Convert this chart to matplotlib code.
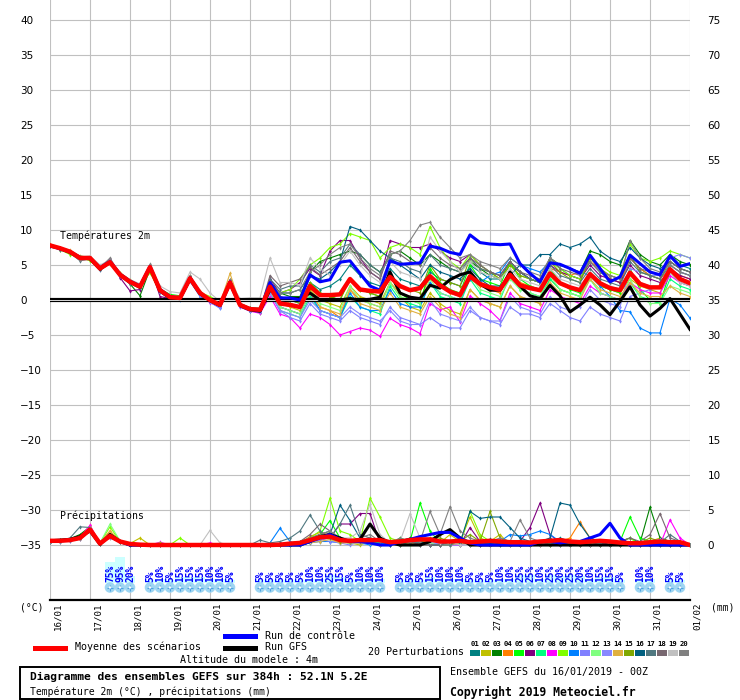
import numpy as np
import matplotlib
matplotlib.use('Agg')
import matplotlib.pyplot as plt
from matplotlib.patches import Rectangle
from matplotlib.lines import Line2D
import matplotlib.transforms as mtransforms

# ---------------- data ----------------
dates = ['16/01', '17/01', '18/01', '19/01', '20/01', '21/01', '22/01', '23/01', '24/01',
         '25/01', '26/01', '27/01', '28/01', '29/01', '30/01', '31/01', '01/02']
steps = np.arange(65)  # 6-hourly steps, 0..384h

mean_temp = [7.8, 7.4, 6.9, 6.0, 6.0, 4.5, 5.4, 3.6, 2.6, 1.9, 4.7, 1.4, 0.4, 0.3, 3.1, 1.0,
             0.0, -0.7, 2.5, -0.7, -1.3, -1.4, 1.9, -0.5, -0.7, -1.0, 2.0, 0.7, 0.7, 0.8, 3.0, 1.5,
             1.3, 1.2, 3.3, 2.0, 1.4, 1.7, 3.4, 2.1, 1.2, 0.7, 3.4, 2.3, 1.8, 1.5, 3.6, 2.1,
             1.7, 1.4, 3.8, 2.4, 1.8, 1.4, 3.7, 2.4, 1.7, 1.4, 3.9, 2.3, 1.8, 1.8, 4.4, 3.0, 2.4]
control_temp = [7.8, 7.3, 6.9, 6.1, 6.0, 4.6, 5.5, 3.7, 2.7, 2.0, 4.8, 1.5, 0.5, 0.3, 3.2, 1.0,
                0.0, -0.8, 2.6, -0.7, -1.3, -1.5,
                2.5, 0.3, 0.3, 0.0, 3.6, 2.6, 2.9, 5.4, 5.6, 3.8, 2.0, 1.4, 5.6, 5.1, 5.2, 5.3,
                7.7, 7.4, 6.8, 6.5, 9.3, 8.2, 8.0, 7.9, 8.0, 5.2, 3.8, 2.6, 5.3, 5.1, 4.5, 3.8,
                6.4, 4.5, 2.6, 3.3, 6.4, 5.2, 4.0, 3.6, 6.3, 4.8, 5.2]
gfs_temp = [7.7, 7.4, 6.8, 6.0, 5.9, 4.4, 5.4, 3.6, 2.6, 1.8, 4.6, 1.3, 0.3, 0.2, 3.0, 0.9,
            -0.1, -0.8, 2.4, -0.8, -1.4, -1.6,
            1.5, 0.2, 0.2, 0.2, 1.0, 0.0, 0.0, 0.0, 0.2, 0.0, 0.1, 0.4, 4.0, 1.0, 0.4, 0.2,
            2.1, 1.7, 2.9, 3.6, 4.0, 2.3, 1.4, 1.4, 4.0, 2.0, 0.6, 0.2, 2.1, 0.6, -1.7, -0.7,
            0.4, -0.7, -2.1, -0.2, 1.9, -0.7, -2.3, -1.2, 0.2, -2.0, -4.2]

pert_temp = [
    # 01
    [7.7, 7.3, 6.8, 6.1, 5.9, 4.6, 5.5, 3.5, 2.4, 1.8, 4.9, 1.3, 0.3, 0.2, 3.2, 0.8, -0.2, -0.9, 2.6, -0.8, -1.4, -1.5,
     2.0, 0.5, 0.0, -0.5, 2.5, 1.5, 2.0, 3.0, 5.0, 3.5, 2.5, 2.0, 4.5, 3.0, 2.5, 2.0, 4.0, 3.0, 2.5, 2.0,
     5.0, 4.0, 3.0, 3.0, 5.5, 4.0, 3.0, 2.5, 6.0, 4.5, 3.5, 3.0, 5.5, 4.0, 3.0, 2.5, 6.0, 4.5, 3.5, 3.5, 6.5, 5.0, 4.5],
    # 02
    [7.9, 7.4, 7.0, 6.3, 6.1, 4.9, 5.6, 3.9, 2.9, 2.2, 4.5, 1.5, 0.5, 0.4, 3.0, 1.2, 0.1, -0.5, 2.3, -0.6, -1.2, -1.3,
     1.5, -0.5, -1.0, -1.5, 1.5, 0.0, -0.5, -1.0, 2.0, 0.5, 0.0, -0.5, 2.5, 0.5, -1.0, -1.5, 1.0, -0.5, -1.5, -2.0,
     1.5, 0.0, -0.5, -1.0, 2.0, 0.5, 0.0, -0.5, 3.0, 1.5, 1.0, 0.5, 3.5, 2.0, 1.5, 1.0, 3.0, 2.0, 1.5, 1.0, 4.5, 3.0, 2.5],
    # 03
    [7.8, 7.2, 6.8, 5.8, 5.8, 4.4, 5.3, 3.5, 2.3, 0.6, 4.4, 1.5, 0.6, 0.4, 3.2, 1.1, 0.2, -0.6, 2.4, -0.9, -1.5, -1.8,
     2.5, 1.0, 0.5, 0.5, 4.0, 5.5, 6.0, 6.5, 7.0, 6.5, 5.0, 4.0, 6.5, 7.0, 6.0, 5.0, 6.5, 5.5, 4.5, 4.0,
     5.5, 4.5, 3.5, 3.0, 5.0, 4.0, 3.0, 2.5, 6.0, 5.0, 4.5, 4.0, 7.0, 6.5, 5.5, 5.0, 8.5, 6.5, 5.5, 5.0, 6.5, 5.5, 5.0],
    # 04
    [7.9, 7.5, 7.0, 6.1, 6.0, 4.6, 5.5, 3.7, 2.7, 2.0, 4.8, 1.2, 0.2, 0.1, 3.5, 0.9, -0.1, -0.8, 2.8, -0.6, -1.2, -1.3,
     1.5, -1.0, -1.5, -2.0, 1.0, -1.0, -1.5, -2.5, 1.5, 0.0, -0.5, -1.0, 2.5, 1.0, 0.5, 0.0, 3.5, 2.0, 1.0, 0.5,
     3.0, 2.0, 1.5, 1.0, 4.0, 2.5, 2.0, 1.5, 4.5, 4.0, 3.5, 4.0, 5.5, 4.5, 3.0, 2.5, 6.0, 4.5, 3.5, 3.0, 4.5, 3.5, 3.0],
    # 05
    [7.8, 7.3, 6.9, 6.0, 6.2, 4.5, 5.3, 3.6, 2.5, 2.0, 4.6, 1.6, 0.8, 0.6, 2.9, 1.0, 0.2, -0.5, 2.2, -0.5, -1.1, -1.2,
     2.0, 0.0, -0.5, -1.0, 2.5, 1.0, 0.5, 0.0, 3.0, 1.5, 1.0, 0.5, 3.5, 1.0, 0.0, -0.5, 4.5, 2.5, 1.5, 1.0,
     5.0, 3.0, 2.5, 2.0, 5.5, 3.0, 2.0, 1.5, 4.5, 2.5, 1.5, 1.0, 3.5, 2.0, 1.5, 1.0, 4.5, 1.5, 0.0, -0.5, 4.0, 2.5, 2.0],
    # 06
    [7.7, 7.4, 6.9, 5.9, 6.1, 4.4, 5.8, 3.2, 1.3, 1.5, 4.9, 0.5, 0.2, 0.1, 3.0, 0.9, -0.1, -0.8, 2.5, -0.8, -1.4, -1.6,
     3.0, 1.0, 1.5, 2.5, 4.5, 3.5, 7.0, 8.5, 8.5, 6.0, 4.0, 3.0, 8.5, 8.0, 7.5, 7.5, 8.0, 7.0, 6.0, 5.5,
     6.5, 5.0, 4.0, 3.5, 5.5, 4.0, 3.0, 2.5, 5.0, 4.0, 3.5, 3.0, 5.0, 3.5, 3.0, 2.5, 5.0, 3.5, 3.0, 2.5, 4.5, 3.5, 3.0],
    # 07
    [7.8, 7.5, 6.9, 6.2, 6.1, 4.5, 5.4, 3.7, 2.6, 1.9, 4.6, 1.4, 0.4, 0.3, 3.0, 0.8, -0.2, -0.9, 2.3, -0.9, -1.5, -1.7,
     1.0, -1.5, -2.0, -2.5, 0.5, -1.5, -2.0, -2.5, 0.5, -1.0, -1.5, -2.0, 2.0, 0.0, -0.5, -1.0, 2.5, 0.5, 0.0, -0.5,
     3.0, 1.0, 0.5, 0.0, 3.5, 1.5, 1.0, 0.5, 3.0, 1.5, 1.0, 0.5, 3.0, 1.0, 0.5, 0.0, 2.5, 0.5, 0.0, -0.5, 3.0, 2.0, 1.5],
    # 08
    [7.8, 7.4, 6.8, 6.0, 6.0, 4.5, 5.4, 3.5, 2.5, 1.8, 4.5, 1.3, 0.3, 0.2, 2.8, 0.7, -0.4, -1.0, 2.0, -1.0, -1.6, -1.9,
     0.5, -2.0, -2.5, -4.0, -2.0, -2.5, -3.5, -5.0, -4.5, -4.0, -4.3, -5.2, -2.6, -3.5, -4.0, -4.8, -0.5, -1.4, -1.0, -3.1,
     0.6, -0.5, -1.5, -2.9, 1.0, -0.5, -1.0, -1.5, 1.5, 0.5, 0.0, -0.5, 2.0, 1.0, 0.5, 0.0, 2.5, 1.5, 1.0, 1.0, 3.5, 2.5, 2.0],
    # 09
    [7.9, 7.2, 6.5, 6.1, 5.6, 4.4, 5.2, 3.8, 2.7, 2.0, 3.9, 1.2, 0.4, 0.5, 3.0, 1.1, 0.5, -0.3, 2.4, -0.7, -1.3, -1.4,
     2.5, 1.0, 1.5, 3.0, 5.0, 6.0, 7.5, 8.0, 9.5, 9.0, 8.5, 6.0, 7.5, 8.0, 7.5, 6.5, 10.5, 7.5, 5.5, 4.5,
     6.5, 5.0, 4.0, 3.0, 5.0, 3.5, 3.0, 2.5, 5.5, 4.5, 3.5, 3.0, 6.0, 5.0, 4.0, 3.5, 8.0, 6.0, 5.5, 6.0, 7.0, 6.5, 6.0],
    # 10
    [7.8, 7.4, 6.9, 6.0, 6.0, 4.5, 5.3, 3.6, 2.6, 1.9, 4.8, 1.1, 0.1, 0.0, 2.7, 0.5, -0.3, -1.1, 2.2, -0.9, -1.5, -1.6,
     1.5, -1.0, -1.5, -2.0, 1.0, -1.5, -2.0, -2.5, 1.0, -1.0, -1.5, -1.5, 1.5, -0.5, -1.0, -1.0, 2.5, 1.0, 0.5, 0.0,
     3.0, 2.5, 3.5, 4.0, 6.0, 5.0, 4.5, 4.0, 5.5, 5.0, 4.5, 4.0, 3.5, 2.0, 0.5, -1.5, -1.7, -4.0, -4.7, -4.7, 0.2, -0.7, -2.6],
    # 11
    [7.7, 7.3, 6.8, 5.9, 5.9, 4.3, 5.3, 3.4, 2.5, 1.8, 4.7, 1.2, 0.2, 0.1, 2.9, 0.6, -0.3, -1.2, 2.1, -1.0, -1.6, -1.7,
     1.0, -1.5, -2.5, -3.0, -0.5, -2.0, -2.5, -3.0, -1.5, -2.5, -3.0, -3.5, -1.0, -2.5, -3.0, -3.5, -2.5, -3.5, -4.0, -4.0,
     -1.5, -2.5, -3.0, -3.5, -1.0, -2.0, -2.0, -2.5, -0.5, -1.5, -2.5, -3.0, -1.0, -2.0, -2.5, -3.0, 0.5, 1.0, 1.5, 2.0, 5.0, 4.0, 3.5],
    # 12
    [7.8, 7.4, 6.9, 6.0, 6.0, 4.5, 5.4, 3.6, 2.6, 1.9, 4.7, 1.5, 0.6, 0.4, 3.1, 1.0, 0.0, -0.7, 2.5, -0.7, -1.3, -1.4,
     1.0, -1.0, -1.5, -2.0, 1.0, -0.5, -1.0, -1.5, 2.0, 0.0, -0.5, -1.0, 2.5, 0.5, 0.0, -0.5, 3.0, 1.0, 0.5, 0.0,
     3.5, 1.5, 1.0, 0.5, 3.0, 1.5, 1.0, 0.5, 3.5, 1.5, 1.0, 0.5, 3.0, 1.0, 0.5, 0.0, 3.0, 0.5, -0.5, -0.5, 2.0, 1.5, 1.0],
    # 13
    [7.8, 7.4, 6.9, 6.0, 6.0, 4.6, 5.5, 3.7, 2.7, 2.0, 4.8, 1.3, 0.3, 0.2, 3.0, 0.7, -0.3, -1.0, 2.3, -0.9, -1.5, -1.6,
     1.0, -1.5, -2.0, -2.5, 0.0, -1.5, -2.0, -2.5, -1.0, -2.0, -2.5, -3.0, -1.5, -3.0, -3.5, -3.5, 0.0, -2.0, -2.5, -3.0,
     -1.0, -2.5, -3.0, -3.0, 0.5, -1.0, -1.5, -2.0, 0.5, -1.0, -1.5, -1.0, 1.5, 0.0, -0.5, -1.0, 4.5, 4.0, 3.5, 3.5, 6.0, 6.5, 6.0],
    # 14
    [8.0, 7.5, 7.1, 6.2, 6.2, 4.8, 5.6, 3.9, 2.8, 2.1, 5.0, 1.6, 0.6, 0.5, 3.4, 1.3, 0.2, -0.5, 3.8, -0.5, -1.1, -1.2,
     2.0, 0.0, -0.5, -1.0, 1.0, -1.0, -1.5, -2.0, 1.5, -0.5, -1.0, -1.5, 1.0, -1.0, -1.5, -2.0, 0.5, -1.0, -2.0, -2.5,
     1.5, 0.0, -0.5, -1.0, 2.0, 0.5, 0.0, -0.5, 2.5, 1.0, 0.5, 0.0, 3.0, 1.5, 1.0, 0.5, 2.5, 1.0, 0.5, 0.5, 2.0, 1.0, 0.5],
    # 15
    [7.8, 7.3, 6.9, 6.0, 5.9, 4.5, 5.4, 3.6, 2.6, 1.9, 4.7, 1.4, 0.5, 0.3, 3.1, 1.0, 0.1, -0.6, 2.6, -0.6, -1.2, -1.3,
     1.5, 0.5, 0.0, -0.5, 2.5, 1.0, 0.5, 0.0, 3.0, 1.5, 1.0, 0.5, 3.5, 2.0, 1.5, 1.0, 5.0, 3.0, 2.5, 2.0,
     6.0, 4.5, 4.0, 3.0, 5.0, 3.5, 3.0, 2.5, 5.5, 4.0, 3.0, 2.5, 6.0, 4.5, 3.5, 3.0, 6.5, 4.0, 3.5, 3.0, 5.5, 4.5, 4.0],
    # 16
    [7.7, 7.3, 6.8, 5.9, 6.0, 4.4, 5.4, 3.5, 2.4, 1.7, 4.6, 1.3, 0.3, 0.2, 3.3, 1.0, 0.0, -0.6, 2.8, -0.7, -1.3, -1.4,
     2.5, 1.0, 1.0, 1.5, 3.5, 3.0, 4.0, 5.5, 10.5, 10.0, 8.5, 7.0, 6.0, 5.0, 4.0, 3.0, 5.0, 4.0, 3.5, 3.0,
     4.5, 3.0, 2.0, 2.0, 3.5, 5.0, 5.0, 6.5, 6.5, 8.0, 7.5, 8.0, 9.0, 7.0, 6.0, 5.5, 7.5, 6.0, 5.0, 4.5, 5.5, 4.5, 4.0],
    # 17
    [7.8, 7.2, 6.7, 5.6, 5.9, 4.3, 5.6, 3.4, 2.3, 1.8, 4.8, 1.3, 0.4, 0.3, 3.4, 1.1, 0.1, -0.5, 2.9, -0.5, -1.1, -1.2,
     3.0, 1.5, 2.0, 2.0, 5.0, 4.0, 5.5, 6.0, 8.0, 6.5, 5.0, 4.0, 6.0, 5.5, 4.5, 4.0, 6.5, 5.0, 4.5, 4.0,
     6.0, 4.5, 4.0, 3.5, 5.5, 4.0, 3.0, 2.5, 5.0, 3.5, 3.0, 2.5, 4.5, 3.0, 2.5, 2.0, 5.5, 4.0, 3.5, 3.0, 5.0, 4.0, 3.5],
    # 18
    [7.8, 7.4, 6.9, 6.0, 6.0, 4.5, 5.6, 3.6, 2.6, 1.9, 4.7, 1.4, 0.4, 0.3, 3.2, 1.0, 0.0, -0.7, 2.5, -0.7, -1.3, -1.4,
     3.5, 2.0, 2.5, 3.0, 4.7, 3.6, 4.5, 5.5, 7.5, 5.5, 4.0, 3.0, 7.0, 6.5, 5.5, 5.0, 7.5, 6.0, 5.0, 4.5,
     6.0, 5.0, 4.0, 3.5, 5.5, 4.0, 3.5, 3.0, 6.0, 4.5, 4.0, 3.5, 5.5, 4.0, 3.5, 3.0, 6.0, 4.5, 4.0, 3.5, 5.5, 4.5, 4.0],
    # 19
    [7.9, 7.5, 7.0, 6.2, 6.3, 5.0, 5.7, 3.8, 2.9, 2.3, 4.6, 2.0, 1.2, 1.0, 4.0, 3.0, 1.0, -0.2, 2.7, 0.2, 0.3, 0.3,
     6.0, 2.5, 2.5, 2.1, 6.0, 4.5, 3.5, 5.0, 7.0, 5.0, 3.5, 2.5, 5.5, 4.0, 3.5, 3.0, 9.0, 7.0, 5.5, 4.0,
     5.5, 4.0, 3.5, 3.0, 4.5, 3.0, 2.5, 2.0, 4.5, 3.0, 2.5, 2.0, 4.0, 2.5, 2.0, 1.5, 4.0, 2.5, 2.0, 2.0, 4.0, 2.5, 2.0],
    # 20
    [7.7, 7.3, 6.7, 5.7, 5.8, 4.6, 6.0, 3.7, 2.6, 1.9, 5.1, 1.5, 0.5, 0.4, 3.4, 1.1, 0.1, -0.6, 2.9, -0.6, -1.2, -1.3,
     2.5, 1.0, 1.0, 1.5, 4.0, 5.0, 6.5, 7.5, 8.0, 6.0, 4.5, 3.5, 6.5, 7.0, 8.5, 10.7, 11.1, 9.0, 7.5, 6.0,
     6.5, 5.5, 5.0, 4.5, 6.0, 5.0, 4.0, 3.5, 6.0, 5.0, 4.5, 4.0, 5.5, 4.0, 3.5, 3.0, 8.5, 6.0, 4.5, 4.0, 5.0, 4.0, 3.5],
]

mean_prec = [0.6, 0.6, 0.7, 1.0, 2.2, 0.2, 1.3, 0.5, 0.15, 0.05, 0, 0, 0, 0, 0, 0,
             0, 0, 0, 0, 0, 0, 0, 0.05, 0.2, 0.3, 0.7, 1.1, 1.2, 0.7, 0.6, 0.7,
             0.7, 0.7, 0.4, 0.5, 0.7, 0.8, 0.8, 0.5, 0.5, 0.6, 0.4, 0.5, 0.6, 0.5, 0.4, 0.4,
             0.35, 0.5, 0.6, 0.7, 0.5, 0.4, 0.5, 0.6, 0.5, 0.35, 0.25, 0.25, 0.4, 0.5, 0.4, 0.4, 0.0]
control_prec = [0.6, 0.6, 0.7, 1.0, 2.2, 0.2, 1.3, 0.5, 0, 0, 0, 0, 0, 0, 0, 0,
                0, 0, 0, 0, 0, 0, 0, 0, 0, 0, 0.5, 1.0, 1.5, 0.8, 0.5, 0.5,
                0.3, 0, 0, 0.5, 0.8, 1.2, 1.5, 1.8, 1.8, 1.0, 0.3, 0, 0, 0, 0, 0,
                0, 0.5, 0.5, 0.3, 0.5, 0.5, 1.0, 1.5, 3.1, 1.0, 0, 0, 0, 0, 0, 0, 0]
gfs_prec = [0.6, 0.7, 0.8, 1.2, 2.0, 0.1, 1.5, 0.5, 0, 0, 0, 0, 0, 0, 0, 0,
            0, 0, 0, 0, 0, 0, 0, 0, 0, 0, 0.5, 1.2, 1.5, 1.0, 0.5, 0.8,
            3.0, 1.0, 0.3, 0, 0, 0, 0.5, 1.5, 2.2, 1.0, 0, 0, 0, 0, 0, 0,
            0, 0, 0, 0, 0, 0, 0, 0, 0, 0, 0, 0, 0, 0, 0, 0, 0]

pert_prec = [
    # 01
    [0.5, 0.6, 0.8, 1.2, 2.5, 0.1, 1.6, 0.4, 0, 0, 0, 0, 0, 0, 0, 0, 0, 0, 0, 0, 0, 0, 0, 0,
     0, 0.5, 1.0, 1.5, 2.0, 0.5, 0.3, 1.0, 0.5, 0.3, 0, 0.8, 0.5, 0.3, 0, 0, 0.5, 1.0, 0.5, 0,
     0.8, 0.3, 0, 0, 0, 0, 0.5, 1.0, 0.5, 0.3, 0.5, 0, 0, 0, 0, 0.5, 0, 0.2, 0.5, 0.3, 0],
    # 02
    [0.4, 0.5, 0.7, 0.8, 2.0, 0.3, 1.0, 0.5, 0.2, 1.0, 0, 0, 0, 0, 0, 0, 0, 0, 0, 0, 0, 0, 0, 0,
     0, 0, 0.5, 0.8, 1.5, 1.0, 0.3, 0, 0.5, 0, 0.2, 0.5, 1.0, 0, 0, 0.3, 1.5, 0.5, 4.0, 1.0,
     0.5, 1.5, 0, 0, 0, 0.5, 0, 0, 0, 0, 0.5, 0.3, 0, 0, 0, 0, 0.5, 1.0, 0.5, 0, 0],
    # 03
    [0.6, 0.7, 0.9, 1.5, 2.6, 0.2, 1.5, 0.6, 0, 0, 0, 0, 0, 0, 0, 0, 0, 0, 0, 0, 0, 0, 0, 0,
     0.3, 0.5, 0.8, 1.5, 1.8, 1.0, 0.5, 0.5, 0.5, 1.0, 0, 0.3, 0.5, 1.0, 0, 0.5, 0.3, 0, 0.3, 0.5,
     0, 0.5, 0.3, 0, 0, 0.5, 0.3, 0, 0.5, 0, 0, 0, 0, 0.5, 1.0, 0.3, 5.4, 1.0, 0.5, 0, 0],
    # 04
    [0.5, 0.6, 0.7, 1.0, 2.8, 0.3, 2.0, 0.5, 0, 0, 0, 0, 0, 0, 0, 0, 0, 0, 0, 0, 0, 0, 0, 0,
     0, 0.3, 1.2, 1.8, 1.5, 0.5, 0.3, 0.5, 0.3, 0.5, 0, 0, 0.3, 0.5, 0.5, 0, 0, 0.3, 0, 0,
     0.5, 0, 0, 0, 0, 0, 0.3, 0.5, 1.0, 3.3, 1.0, 0.5, 0.3, 0, 0, 0, 0, 0, 0.3, 0, 0],
    # 05
    [0.6, 0.6, 0.7, 1.1, 2.3, 0.3, 1.5, 0.5, 0, 0, 0, 0, 0, 0, 0, 0, 0, 0, 0, 0, 0, 0, 0, 0,
     0, 0, 0.5, 1.5, 3.5, 1.0, 0.5, 0.5, 0.5, 0, 0, 1.0, 0.5, 6.0, 2.0, 0.3, 0, 0.5, 0, 0,
     0, 0.3, 0.5, 0, 0, 0, 0, 0.5, 0.3, 0, 0, 0, 0, 0.5, 4.0, 1.0, 0.5, 0, 0, 0.5, 0],
    # 06
    [0.5, 0.5, 0.6, 0.9, 2.1, 0.2, 1.2, 0.5, 0.1, 0, 0, 0, 0, 0, 0, 0, 0, 0, 0, 0, 0, 0, 0, 0,
     0, 0.3, 0.5, 0.8, 1.0, 3.0, 3.0, 4.5, 4.5, 0.3, 0.5, 0, 0.5, 0, 0, 0.5, 0.5, 0, 2.5, 0.5,
     0, 0.5, 0, 0.5, 2.5, 6.0, 1.5, 0.3, 0, 0.5, 0, 0, 0, 0, 0, 0, 0, 0.3, 0, 0, 0],
    # 07
    [0.6, 0.6, 0.7, 1.0, 2.2, 0.2, 1.3, 0.5, 0, 0, 0, 0, 0, 0, 0, 0, 0, 0, 0, 0, 0, 0, 0, 0,
     0, 0.3, 0.8, 1.2, 0.8, 0.5, 0.3, 0.5, 0.5, 0.3, 0, 0.5, 0.3, 0, 0, 0.5, 0, 0.3, 0, 0.5,
     0.3, 0, 0, 0, 0, 0.3, 0.5, 0.3, 0, 0, 0.3, 0.5, 0.5, 0, 0, 0, 0.3, 0.5, 0.3, 0, 0],
    # 08
    [0.5, 0.6, 0.7, 1.1, 2.8, 0.2, 1.3, 0.4, 0, 0, 0, 0.4, 0, 0, 0, 0, 0.3, 0, 0, 0, 0, 0, 0, 0,
     0, 0, 0.5, 0.8, 1.0, 0.5, 0.5, 0.5, 0.3, 0, 0, 0.5, 0.5, 0.3, 0, 0, 0, 0, 0.5, 0,
     0, 0.5, 0, 0, 0, 0, 0, 0, 0.5, 0.5, 0, 0, 0, 0, 0, 0, 0, 0, 3.6, 1.0, 0],
    # 09
    [0.6, 0.7, 0.8, 1.2, 2.4, 0.3, 2.6, 0.5, 0, 0, 0, 0.3, 0, 1.0, 0, 0, 0, 0, 0, 0, 0, 0, 0, 0,
     0, 0.5, 1.0, 2.0, 6.7, 2.0, 1.5, 0.5, 6.7, 4.0, 1.0, 0.5, 1.0, 0.5, 0, 0, 0.5, 0, 4.8, 1.5,
     0.5, 0, 0, 0, 0, 0.5, 0, 0, 0, 0, 0, 0, 0, 0.5, 1.0, 0, 0, 0, 0, 0.5, 0],
    # 10
    [0.5, 0.6, 0.7, 1.0, 2.0, 0.2, 1.1, 0.5, 0, 0, 0, 0, 0, 0, 0, 0, 0, 0, 0, 0, 0, 0.1, 0.3, 2.4,
     0.5, 0, 0.3, 0.5, 0.5, 0.3, 0.5, 0.3, 0, 0.3, 0, 0, 0.3, 0, 0, 0, 0, 0.3, 0, 0,
     0, 0.5, 1.5, 1.3, 1.5, 2.0, 1.5, 0.5, 0, 0.5, 0, 0, 0, 0, 0, 0, 0, 0, 0, 0, 0],
    # 11
    [0.5, 0.5, 0.6, 0.9, 2.0, 0.2, 1.0, 0.4, 0, 0, 0, 0, 0, 0, 0, 0, 0, 0, 0, 0, 0, 0, 0, 0,
     0, 0.3, 0.5, 0.8, 0.5, 0.3, 0, 0.5, 0.3, 0, 0, 0, 0.3, 0, 0, 0.3, 0, 0.3, 0, 0,
     0.3, 0, 0, 0.5, 0.3, 0, 0.3, 0, 0, 0, 0.5, 0.3, 0, 0, 0, 0, 0.3, 0.5, 0.5, 0.5, 0],
    # 12
    [0.6, 0.6, 0.7, 1.0, 2.4, 0.3, 3.0, 0.6, 0, 0, 0, 0, 0, 0, 0, 0, 0, 0, 0, 0, 0, 0, 0, 0,
     0, 0.3, 0.5, 1.0, 1.0, 0.5, 0.3, 0.3, 0.3, 0, 0.3, 0.3, 0, 0, 0.3, 0, 0, 0.3, 0, 0,
     0.3, 0, 0, 0.3, 0, 0.3, 0, 0, 0, 0, 0.3, 0, 0, 0, 0.3, 0, 0, 0.3, 0.3, 0.3, 0],
    # 13
    [0.5, 0.6, 0.7, 1.0, 2.1, 0.2, 1.2, 0.5, 0, 0, 0, 0, 0, 0, 0, 0, 0, 0, 0, 0, 0, 0, 0, 0,
     0, 0, 0.3, 0.8, 1.2, 0.5, 0.3, 0.3, 0.3, 0, 0, 0.5, 0.3, 0, 0.5, 0, 0, 0, 0, 0.3,
     0.3, 0.5, 0.3, 0, 0, 0.3, 0.5, 0.3, 0, 0, 0, 0, 0, 0, 0.5, 0, 0.5, 0.8, 0.5, 0.3, 0],
    # 14
    [0.6, 0.7, 0.8, 1.0, 2.3, 0.2, 2.0, 0.5, 0, 0, 0, 0, 0, 0, 0, 0, 0, 0, 0, 0, 0, 0, 0, 0,
     0, 0, 0.3, 0.5, 0.8, 0.3, 0.3, 0.3, 0.3, 0, 0, 0, 0.3, 0, 0, 0, 0, 0.3, 0, 0,
     0, 0, 0, 0.3, 0, 0, 0.3, 0, 0.3, 0.5, 0, 0, 0, 0, 0, 0, 0, 0.3, 0, 0, 0],
    # 15
    [0.5, 0.6, 0.7, 1.0, 2.2, 0.2, 1.3, 0.5, 0, 0, 0, 0, 0, 0, 0, 0, 0, 0, 0, 0, 0, 0, 0, 0,
     0, 0.3, 0.5, 1.0, 1.2, 0.5, 0.5, 0.8, 1.0, 0.5, 0.3, 0, 0.5, 0.3, 1.0, 1.0, 0.5, 0.5, 1.5, 0.5,
     4.8, 1.0, 0.5, 0, 0, 0.3, 0, 0.5, 0, 0, 0.5, 0, 0, 0, 0.5, 0.3, 1.0, 0.5, 0.3, 0, 0],
    # 16
    [0.5, 0.6, 0.7, 1.0, 2.1, 0.2, 1.3, 0.5, 0, 0, 0, 0, 0, 0, 0, 0, 0, 0, 0, 0, 0, 0, 0, 0,
     0, 0.2, 0.5, 1.0, 1.5, 5.7, 3.5, 1.0, 0.5, 0.5, 0, 0.3, 1.0, 0.5, 0, 0, 0.5, 0.3, 4.8, 3.8,
     4.0, 4.0, 2.5, 1.0, 0.5, 0.5, 1.0, 6.0, 5.7, 3.0, 1.0, 0.5, 0, 0, 0, 0, 0, 0.5, 0, 0, 0],
    # 17
    [0.6, 0.7, 1.0, 2.6, 2.5, 0.3, 1.5, 0.5, 0, 0, 0, 0, 0, 0, 0, 0, 0, 0, 0, 0, 0, 0.7, 0.3, 0.5,
     1.0, 2.0, 4.3, 2.0, 1.0, 3.0, 5.7, 1.5, 1.0, 0.5, 0.3, 0, 0.5, 0.3, 0, 0, 0, 0.5, 0, 0,
     0.5, 0, 0, 0, 0, 0.5, 0, 0, 0.5, 0, 0, 0, 0, 0, 0, 0, 0, 0.3, 1.5, 0.5, 0],
    # 18
    [0.5, 0.6, 0.7, 1.0, 2.2, 0.2, 1.3, 0.5, 0, 0, 0, 0, 0, 0, 0, 0, 0, 0, 0, 0, 0, 0, 0, 0,
     0, 0.5, 1.5, 3.0, 2.0, 1.0, 0.5, 0.5, 0.5, 1.0, 0.5, 0.3, 0.5, 0, 0, 0, 0.5, 0.5, 0, 0,
     0, 0.5, 0.3, 0, 0, 0.3, 0.5, 0.3, 0, 0, 0, 0.3, 0, 0.5, 1.0, 0.5, 1.5, 4.5, 1.0, 0.5, 0],
    # 19
    [0.5, 0.6, 0.7, 1.0, 2.3, 0.2, 1.4, 0.5, 0, 0, 0, 0, 0, 0, 0, 0, 2.1, 0.3, 0, 0, 0, 0, 0, 0,
     0, 0.3, 0.5, 1.0, 2.0, 1.0, 1.0, 2.0, 5.8, 1.5, 0.3, 0.5, 4.5, 1.0, 0.5, 0.3, 0.5, 0, 0, 0.3,
     0, 0.5, 0, 0, 0, 0, 0.5, 0, 0, 0, 0, 0.3, 0.5, 0, 0, 0, 0, 0, 0.5, 0, 0],
    # 20
    [0.5, 0.6, 0.7, 1.0, 2.2, 0.2, 1.3, 0.5, 0, 0, 0, 0, 0, 0, 0, 0, 0, 0, 0, 0, 0, 0, 0, 0,
     0.3, 0.5, 1.0, 1.5, 2.0, 1.0, 0.5, 1.0, 1.5, 0.5, 0.3, 1.0, 0.5, 0.5, 4.8, 1.5, 5.5, 2.0, 1.0, 0.5,
     0.5, 1.0, 0.5, 3.6, 1.0, 0.5, 0, 0, 0, 0, 0.5, 0, 0, 0, 0, 0, 0, 0, 0, 0, 0],
]

pert_colors = ['#008080', '#c0c000', '#008000', '#ff8000', '#00ff00', '#800080', '#00ff80',
               '#ff00ff', '#80ff00', '#0080ff', '#8080ff', '#80ff80', '#8888ff', '#e0b040',
               '#80a800', '#006080', '#507880', '#786870', '#c0c0c0', '#808080']

snow_steps = [6, 7, 8,
              10, 11, 12, 13, 14, 15, 16, 17, 18,
              21, 22, 23, 24, 25, 26, 27, 28, 29, 30, 31, 32, 33,
              35, 36, 37, 38, 39, 40, 41, 42, 43, 44, 45, 46, 47, 48, 49, 50, 51, 52, 53, 54, 55, 56, 57,
              59, 60, 62, 63]
snow_pct = [75, 95, 20,
            5, 10, 5, 15, 15, 15, 10, 10, 5,
            5, 5, 5, 5, 5, 10, 10, 25, 15, 5, 10, 10, 10,
            5, 5, 5, 15, 10, 10, 10, 5, 5, 5, 10, 10, 25, 25, 10, 25, 20, 25, 20, 10, 15, 15, 5,
            10, 10, 5, 5]

temp_ticks = list(range(-35, 45, 5))
prec_ticks = list(range(0, 80, 5))

for s in pert_temp + pert_prec:
    assert len(s) == 65, len(s)
assert len(snow_steps) == len(snow_pct)

# ---------------- figure ----------------
W, H = 740, 700
MONO = 'DejaVu Sans Mono'


def fx(x):
    return x / W


def fy(y):
    return 1 - y / H


fig = plt.figure(figsize=(W / 100, H / 100), dpi=100)
ax = fig.add_axes([fx(50), 100 / H, 640 / W, 600 / H])
ylo, yhi = -300 / 7, 300 / 7
ax.set_xlim(0, 64)
ax.set_ylim(ylo, yhi)

ax.set_yticks(temp_ticks)
ax.set_xticks(np.arange(0, 65, 4))
ax.set_xticklabels([])
ax.grid(True, color='#c0c0c0', lw=0.8, zorder=0)
ax.set_axisbelow(True)
ax.tick_params(axis='both', length=0)
ax.tick_params(axis='y', pad=21.5, labelsize=7.5)
for lab in ax.get_yticklabels():
    lab.set_ha('left')
for side in ['left', 'right', 'top']:
    ax.spines[side].set_visible(False)
ax.spines['bottom'].set_color('black')
ax.spines['bottom'].set_linewidth(1.6)

ax2 = ax.twinx()
ax2.set_ylim(ylo + 35, yhi + 35)
ax2.set_yticks(prec_ticks)
ax2.tick_params(axis='y', length=0, pad=12.5, labelsize=7.5)
for side in ['left', 'right', 'top', 'bottom']:
    ax2.spines[side].set_visible(False)

# zero line (double)
ax.axhline(0, color='black', lw=3.0, zorder=3.5)
ax.axhline(0, color='#d8d8d8', lw=0.7, zorder=3.6)

# perturbations
for t, p, c in zip(pert_temp, pert_prec, pert_colors):
    ax.plot(steps, t, color=c, lw=0.8, marker='d', ms=2.2, mew=0, zorder=3)
    ax2.plot(steps, p, color=c, lw=0.8, marker='d', ms=2.2, mew=0, zorder=3)

ax.plot(steps, gfs_temp, color='black', lw=2.2, zorder=4)
ax2.plot(steps, gfs_prec, color='black', lw=2.2, zorder=4)
ax.plot(steps, control_temp, color='#0000ff', lw=2.2, zorder=5)
ax2.plot(steps, control_prec, color='#0000ff', lw=2.2, zorder=5)
ax.plot(steps, mean_temp, color='#ff0000', lw=3.2, zorder=6)
ax2.plot(steps, mean_prec, color='#ff0000', lw=3.2, zorder=6)

# snow probability boxes
box_bottom = (300 - 583) / 7
heights = [(2 + 0.25 * p) / 7 for p in snow_pct]
ax.bar(snow_steps, heights, bottom=box_bottom, width=1.0, color='#ccffff', zorder=1, linewidth=0)
icon_y = (300 - 587.5) / 7
ax.scatter(snow_steps, [icon_y] * len(snow_steps), s=58, marker='o', color='#9fd6f2',
           edgecolors='none', zorder=2)
ax.scatter(snow_steps, [icon_y] * len(snow_steps), s=24, marker='+', color='#4fa3e0',
           linewidths=0.8, zorder=2.1)
ax.scatter(snow_steps, [icon_y] * len(snow_steps), s=3, marker='o', color='white',
           edgecolors='none', zorder=2.2)
for k, pct in zip(snow_steps, snow_pct):
    ax.text(k, (300 - 582) / 7, f'{pct}%', rotation=90, ha='center', va='bottom',
            color='#0000ff', fontsize=6.9, family=MONO, fontweight='bold', zorder=3)

# panel labels
fig.text(fx(60), fy(236), 'Températures 2m', ha='left', va='center', fontsize=7.1, family=MONO)
fig.text(fx(60), fy(516), 'Précipitations', ha='left', va='center', fontsize=7.1, family=MONO)

# date labels
off = mtransforms.ScaledTranslation(7.5 / 100, -3 / 100, fig.dpi_scale_trans)
for d, lab in enumerate(dates):
    ax.text(4 * d, 0, lab, rotation=90, ha='center', va='top', fontsize=6.6, family=MONO,
            transform=ax.get_xaxis_transform() + off)

fig.text(fx(20), fy(607), '(°C)', ha='left', va='center', fontsize=7, family=MONO)
fig.text(fx(711), fy(607), '(mm)', ha='left', va='center', fontsize=7, family=MONO)

# legend lines
fig.add_artist(Line2D([fx(35), fx(65)], [fy(647.5)] * 2, color='#ff0000', lw=3.6))
fig.add_artist(Line2D([fx(225), fx(255)], [fy(635.5)] * 2, color='#0000ff', lw=3.6))
fig.add_artist(Line2D([fx(225), fx(255)], [fy(647.5)] * 2, color='black', lw=3.6))
fig.text(fx(75), fy(647), 'Moyenne des scénarios', ha='left', va='center', fontsize=7.2, family=MONO)
fig.text(fx(265), fy(636), 'Run de contrôle', ha='left', va='center', fontsize=7.2, family=MONO)
fig.text(fx(265), fy(647), 'Run GFS', ha='left', va='center', fontsize=7.2, family=MONO)
fig.text(fx(180), fy(660), 'Altitude du modele : 4m', ha='left', va='center', fontsize=7.2, family=MONO)
fig.text(fx(368), fy(652), '20 Perturbations', ha='left', va='center', fontsize=7.2, family=MONO)
for j, c in enumerate(pert_colors):
    fig.add_artist(Rectangle((fx(470 + 11 * j), fy(656)), 10 / W, 6 / H, color=c, lw=0))
    fig.text(fx(475 + 11 * j), fy(643.5), f'{j + 1:02d}', ha='center', va='center',
             fontsize=5.2, family=MONO, fontweight='bold')

# info box
fig.add_artist(Rectangle((fx(20), fy(699)), 420 / W, 32 / H, fill=False, edgecolor='black', lw=1.4))
fig.text(fx(30), fy(677), 'Diagramme des ensembles GEFS sur 384h : 52.1N 5.2E', ha='left', va='center',
         fontsize=8.1, family=MONO, fontweight='bold')
fig.text(fx(30), fy(692), 'Température 2m (°C) , précipitations (mm)', ha='left', va='center',
         fontsize=7.0, family=MONO)
fig.text(fx(450), fy(672), 'Ensemble GEFS du 16/01/2019 - 00Z', ha='left', va='center',
         fontsize=7.2, family=MONO)
fig.text(fx(450), fy(692), 'Copyright 2019 Meteociel.fr', ha='left', va='center',
         fontsize=8.3, family=MONO, fontweight='bold')

fig.savefig('out.png', dpi=100)
